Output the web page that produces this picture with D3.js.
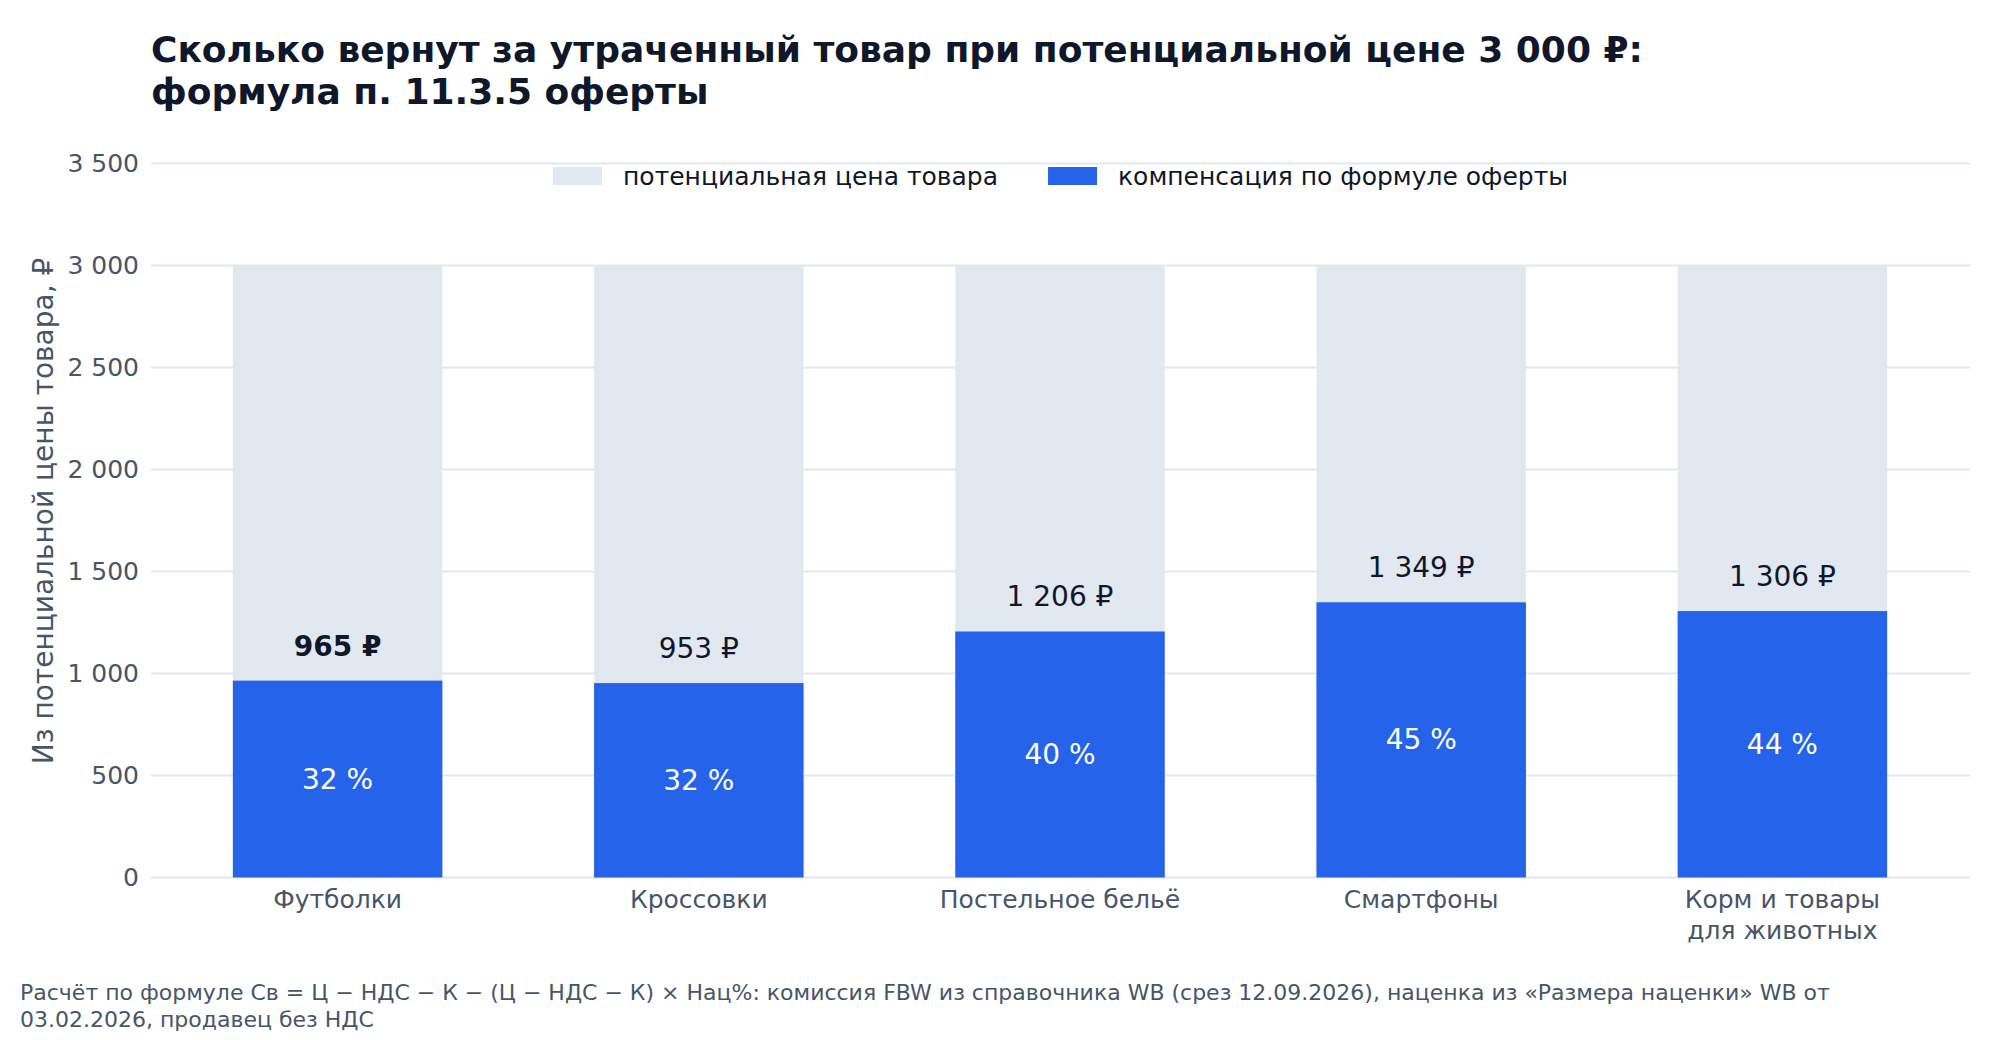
<!DOCTYPE html>
<html lang="ru">
<head>
<meta charset="utf-8">
<script src="https://cdn.jsdelivr.net/npm/d3@7"></script>
<style>
  html, body { margin: 0; padding: 0; background: #fff; }
  svg text { font-family: "DejaVu Sans", sans-serif; }
</style>
</head>
<body>
<svg id="chart" width="2000" height="1040"></svg>
<script>
// data
const categories = ["Футболки", "Кроссовки", "Постельное бельё", "Смартфоны", "Корм и товары\nдля животных"];
const potentialPrice = [3000, 3000, 3000, 3000, 3000];
const compensation = [965, 953, 1206, 1349, 1306];
const compensationPct = [32, 32, 40, 45, 44];
const highlighted = ["Футболки"];
const yTicks = [0, 500, 1000, 1500, 2000, 2500, 3000, 3500];
const seriesNames = ["потенциальная цена товара", "компенсация по формуле оферты"];

const titleLines = ["Сколько вернут за утраченный товар при потенциальной цене 3 000 ₽:", "формула п. 11.3.5 оферты"];
const yTitle = "Из потенциальной цены товара, ₽";
const noteLines = [
  "Расчёт по формуле Св = Ц − НДС − К − (Ц − НДС − К) × Нац%: комиссия FBW из справочника WB (срез 12.09.2026), наценка из «Размера наценки» WB от",
  "03.02.2026, продавец без НДС"
];

const colors = { bg: "#e2e8f0", comp: "#2563eb", grid: "#e2e8f0", title: "#0f172a", muted: "#475569" };

const ru = d3.formatLocale({ decimal: ",", thousands: "\u00a0", grouping: [3], currency: ["", "\u00a0₽"] });
const fmtNum = ru.format(",d");

const rows = categories.map((c, i) => ({
  name: c, full: potentialPrice[i], value: compensation[i], pct: compensationPct[i]
}));

const svg = d3.select("#chart");
const plot = { left: 151, right: 1970, top: 163.5, bottom: 877.5 };

const x = d3.scaleBand()
  .domain(categories)
  .range([157, 1963])
  .paddingInner(0.42)
  .paddingOuter(0.21);

const y = d3.scaleLinear()
  .domain([0, 3500])
  .range([plot.bottom, plot.top]);

// title
svg.append("g").selectAll("text")
  .data(titleLines)
  .enter().append("text")
  .attr("x", 151)
  .attr("y", (d, i) => 62 + i * 42)
  .attr("font-size", 36)
  .attr("font-weight", "bold")
  .attr("fill", colors.title)
  .text(d => d);

// grid
svg.append("g").selectAll("line")
  .data(yTicks)
  .enter().append("line")
  .attr("x1", plot.left).attr("x2", plot.right)
  .attr("y1", d => y(d)).attr("y2", d => y(d))
  .attr("stroke", colors.grid)
  .attr("stroke-width", 2);

// y axis
const yAxis = svg.append("g")
  .attr("transform", `translate(${plot.left},0)`)
  .call(d3.axisLeft(y).tickValues(yTicks).tickSize(0).tickPadding(12).tickFormat(fmtNum));
yAxis.select(".domain").remove();
yAxis.selectAll("text")
  .attr("font-size", 25)
  .attr("fill", colors.muted)
  .style("font-family", "DejaVu Sans, sans-serif");

svg.append("text")
  .attr("transform", "translate(43,511) rotate(-90)")
  .attr("text-anchor", "middle")
  .attr("dominant-baseline", "central")
  .attr("font-size", 28)
  .attr("fill", colors.muted)
  .text(yTitle);

// bars
const bars = svg.append("g");
bars.selectAll(".bar-full")
  .data(rows)
  .enter().append("rect")
  .attr("class", "bar-full")
  .attr("x", d => x(d.name))
  .attr("width", x.bandwidth())
  .attr("y", d => y(d.full))
  .attr("height", d => y(0) - y(d.full))
  .attr("fill", colors.bg);

bars.selectAll(".bar-comp")
  .data(rows)
  .enter().append("rect")
  .attr("class", "bar-comp")
  .attr("x", d => x(d.name))
  .attr("width", x.bandwidth())
  .attr("y", d => y(d.value))
  .attr("height", d => y(0) - y(d.value))
  .attr("fill", colors.comp);

// value labels
bars.selectAll(".val")
  .data(rows)
  .enter().append("text")
  .attr("class", "val")
  .attr("x", d => x(d.name) + x.bandwidth() / 2)
  .attr("y", d => y(d.value) - 25)
  .attr("text-anchor", "middle")
  .attr("font-size", 28)
  .attr("font-weight", d => highlighted.includes(d.name) ? "bold" : "normal")
  .attr("fill", colors.title)
  .text(d => fmtNum(d.value) + "\u00a0₽");

bars.selectAll(".pct")
  .data(rows)
  .enter().append("text")
  .attr("class", "pct")
  .attr("x", d => x(d.name) + x.bandwidth() / 2)
  .attr("y", d => y(d.value / 2))
  .attr("text-anchor", "middle")
  .attr("dominant-baseline", "central")
  .attr("font-size", 28)
  .attr("fill", "#ffffff")
  .text(d => d.pct + "\u00a0%");

// x labels
const xl = svg.append("g").selectAll("text")
  .data(categories)
  .enter().append("text")
  .attr("x", d => x(d) + x.bandwidth() / 2)
  .attr("y", 908)
  .attr("text-anchor", "middle")
  .attr("font-size", 25)
  .attr("fill", colors.muted);
xl.each(function(d) {
  const t = d3.select(this);
  d.split("\n").forEach((line, i) => {
    t.append("tspan")
      .attr("x", x(d) + x.bandwidth() / 2)
      .attr("dy", i === 0 ? 0 : 31)
      .text(line);
  });
});

// legend
const legend = svg.append("g");
const legendItems = legend.selectAll("g")
  .data(seriesNames)
  .enter().append("g");
legendItems.append("rect")
  .attr("y", 167).attr("width", 49).attr("height", 18)
  .attr("fill", (d, i) => i === 0 ? colors.bg : colors.comp);
legendItems.append("text")
  .attr("x", 70).attr("y", 185)
  .attr("font-size", 25)
  .attr("fill", colors.title)
  .text(d => d);
// lay out items horizontally, centred on the plot
const widths = [];
legendItems.each(function() { widths.push(this.getBBox().width); });
const gap = 50;
const totalW = d3.sum(widths) + gap * (widths.length - 1);
let offset = (plot.left + plot.right) / 2 - totalW / 2;
legendItems.attr("transform", (d, i) => {
  const tx = offset;
  offset += widths[i] + gap;
  return `translate(${tx},0)`;
});

// footnote
svg.append("g").selectAll("text")
  .data(noteLines)
  .enter().append("text")
  .attr("x", 20)
  .attr("y", (d, i) => 1000 + i * 27)
  .attr("font-size", 22)
  .attr("fill", colors.muted)
  .text(d => d);
</script>
</body>
</html>
